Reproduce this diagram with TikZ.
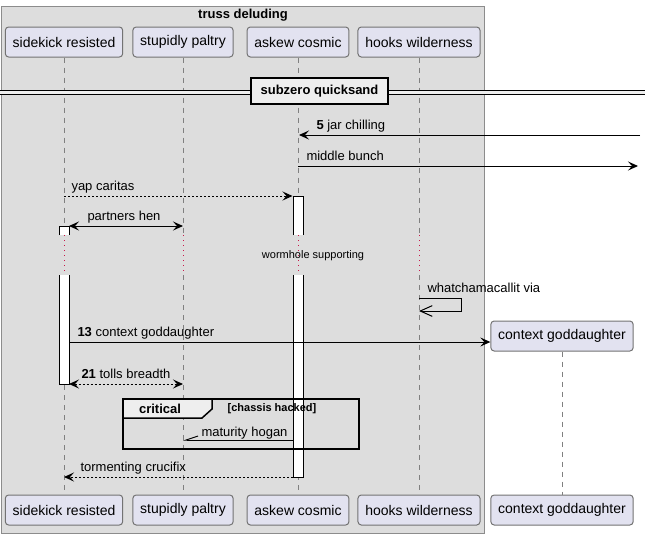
\documentclass[tikz,border=0pt]{standalone}
\usepackage{fontspec}
\setmainfont{Liberation Sans}
\usetikzlibrary{arrows.meta, positioning}
\definecolor{boxgray}{HTML}{DDDDDD}
\definecolor{partfill}{HTML}{E2E2F0}
\definecolor{tabfill}{HTML}{EEEEEE}
\definecolor{delayred}{HTML}{C8184A}
\tikzstyle{participant} = [
    rectangle,
    rounded corners=2.5pt,
    minimum height=22.5pt,
    inner xsep=5.5pt,
    text centered,
    draw=black!55,
    line width=0.75pt,
    fill=partfill,
    font=\fontsize{10.5}{12}\selectfont
]
\tikzstyle{boxtitle} = [inner sep=0pt, font=\bfseries\fontsize{9.75}{11}\selectfont]
\tikzstyle{lifeline} = [draw=black!50, line width=0.5pt, dash pattern=on 3.75pt off 3.75pt]
\tikzstyle{delayline} = [draw=delayred, line width=0.75pt, dash pattern=on 0.75pt off 3pt]
\tikzstyle{delaytext} = [inner sep=0pt, font=\fontsize{8.25}{10}\selectfont]
\tikzstyle{divider} = [draw=black, line width=0.75pt, double=tabfill, double distance=2.25pt]
\tikzstyle{dividerbox} = [
    rectangle,
    minimum width=102.75pt,
    minimum height=19.5pt,
    inner xsep=0pt,
    draw=black,
    line width=1.125pt,
    fill=tabfill,
    font=\bfseries\fontsize{9.75}{11}\selectfont
]
\tikzstyle{activation} = [fill=white]
\tikzstyle{actborder} = [draw=black, line width=0.75pt]
\tikzstyle{msglabel} = [anchor=base west, inner sep=0pt, yshift=4pt, font=\fontsize{9.75}{11}\selectfont]
\tikzstyle{arrow} = [draw=black, line width=0.75pt, -{Stealth[length=7.5pt, width=6.75pt, inset=3pt]}]
\tikzstyle{dasharrow} = [arrow, dash pattern=on 1.5pt off 1.5pt]
\tikzstyle{bothways} = [draw=black, line width=0.75pt, {Stealth[length=7.5pt, width=6.75pt, inset=3pt]}-{Stealth[length=7.5pt, width=6.75pt, inset=3pt]}]
\tikzstyle{dashboth} = [bothways, dash pattern=on 1.5pt off 1.5pt]
\tikzstyle{openarrow} = [draw=black, line width=0.75pt, -{Straight Barb[length=9pt, width=8pt]}]
\tikzstyle{halfarrow} = [draw=black, line width=0.75pt, -{Straight Barb[right, length=9pt, width=6pt]}]
\tikzstyle{groupframe} = [draw=black, line width=1.125pt]
\tikzstyle{grouptab} = [draw=black, line width=1.125pt, fill=tabfill]
\tikzstyle{grouplabel} = [inner sep=0pt, font=\bfseries\fontsize{9.75}{11}\selectfont]
\tikzstyle{guardlabel} = [inner sep=0pt, font=\bfseries\fontsize{8.25}{10}\selectfont]

\begin{document}
\begin{tikzpicture}[x=0.75pt, y=-0.75pt]
\useasboundingbox (0,0) rectangle (645,536);

% Box
\draw [draw=black!45, fill=boxgray] (1,6) rectangle (484,533);
\node (title) [boxtitle] at (243,15) {truss deluding};

% Participants and lifelines
\foreach \p/\x/\t in {sr/64/sidekick resisted, sp/183/stupidly paltry, ac/298/askew cosmic, hw/419/hooks wilderness} {
    \node (\p-top) [participant] at (\x,42) {\t};
    \node (\p-bot) [participant] at (\x,510) {\t};
    \coordinate (\p-d1) at (\x,235);
    \coordinate (\p-d2) at (\x,275);
    \draw [lifeline] (\p-top) -- (\p-d1);
    \draw [delayline] (\p-d1) -- (\p-d2);
    \draw [lifeline] (\p-d2) -- (\p-bot);
}
\node (cg-top) [participant] at (562,336) {context goddaughter};
\node (cg-bot) [participant] at (562,510) {context goddaughter};
\draw [lifeline] (cg-top) -- (cg-bot);

% Divider
\coordinate (dv-l) at (0,92);
\coordinate (dv-r) at (645,92);
\draw [divider] (dv-l) -- (dv-r);
\node (divider) [dividerbox] at (319.5,91) {subzero quicksand};

% Activations
\fill [activation] (59,226) rectangle (69,235);
\draw [actborder] (59,235) -- (59,226) -- (69,226) -- (69,235);
\fill [activation] (59,275) rectangle (69,384);
\draw [actborder] (59,275) -- (59,384) -- (69,384) -- (69,275);
\fill [activation] (293,196) rectangle (303,235);
\draw [actborder] (293,235) -- (293,196) -- (303,196) -- (303,235);
\fill [activation] (293,275) rectangle (303,477);
\draw [actborder] (293,275) -- (293,477) -- (303,477) -- (303,275);

% Messages
\coordinate (jar-r) at (640,135);
\coordinate (jar-l) at (299,135);
\draw [arrow] (jar-r) -- (jar-l) node [msglabel, xshift=12.75pt] {\textbf{5} jar chilling};

\coordinate (mid-l) at (298,166);
\coordinate (mid-r) at (638,166);
\draw [arrow] (mid-l) node [msglabel, xshift=6pt] {middle bunch} -- (mid-r);

\coordinate (yap-l) at (64,196);
\coordinate (yap-r) at (292.5,196);
\draw [dasharrow] (yap-l) node [msglabel, xshift=5.25pt] {yap caritas} -- (yap-r);

\coordinate (hen-l) at (69,226);
\coordinate (hen-r) at (183,226);
\draw [bothways] (hen-l) node [msglabel, xshift=13.5pt] {partners hen} -- (hen-r);

\node (delay) [delaytext] at (313,256) {wormhole supporting};

\coordinate (self-a) at (419,298);
\coordinate (self-b) at (419,311);
\draw [openarrow] (self-a) node [msglabel, xshift=6pt] {whatchamacallit via} -- ++(42,0) |- (self-b);

\coordinate (ctx-l) at (69,342);
\draw [arrow] (ctx-l) node [msglabel, xshift=6pt] {\textbf{13} context goddaughter} -- (ctx-l -| cg-top.west);

\coordinate (tol-l) at (69,384);
\coordinate (tol-r) at (183,384);
\draw [dashboth] (tol-l) node [msglabel, xshift=9pt] {\textbf{21} tolls breadth} -- (tol-r);

% Group
\draw [groupframe] (123,399) rectangle (359,449);
\draw [grouptab] (123,399) -- (212,399) -- (212,409) -- (202,418) -- (123,418) -- cycle;
\node (crit) [grouplabel] at (160,409) {critical};
\node (guard) [guardlabel] at (272,409) {[chassis hacked]};

\coordinate (mat-r) at (293,440);
\coordinate (mat-l) at (183,440);
\draw [halfarrow] (mat-r) -- (mat-l) node [msglabel, xshift=13.5pt, yshift=-1pt] {maturity hogan};

\coordinate (tor-r) at (293,477);
\coordinate (tor-l) at (64,477);
\draw [dasharrow] (tor-r) -- (tor-l) node [msglabel, xshift=12pt] {tormenting crucifix};

\end{tikzpicture}
\end{document}
